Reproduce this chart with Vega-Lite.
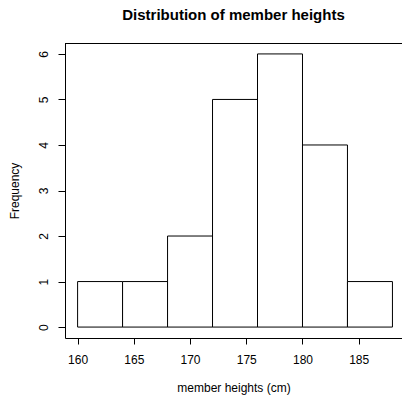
{
  "$schema": "https://vega.github.io/schema/vega-lite/v6.json",
  "width": 337,
  "height": 295,
  "autosize": "none",
  "padding": {"left": 65, "top": 43, "right": 0, "bottom": 59},
  "config": {"view": {"stroke": null}, "font": "Liberation Sans"},
  "title": {"text": "Distribution of member heights", "fontSize": 15, "fontWeight": "bold", "font": "Liberation Sans", "color": "black", "anchor": "middle", "offset": 20},
  "data": {"values": [
    {"start": 160, "end": 164, "count": 1},
    {"start": 164, "end": 168, "count": 1},
    {"start": 168, "end": 172, "count": 2},
    {"start": 172, "end": 176, "count": 5},
    {"start": 176, "end": 180, "count": 6},
    {"start": 180, "end": 184, "count": 4},
    {"start": 184, "end": 188, "count": 1}
  ]},
  "layer": [
    {
      "mark": {"type": "bar", "fill": "white", "stroke": "black", "strokeWidth": 1},
      "encoding": {
        "x": {"field": "start", "type": "quantitative",
          "scale": {"domain": [158.88, 188.85], "nice": false, "zero": false},
          "axis": {"values": [160, 165, 170, 175, 180, 185], "grid": false, "tickSize": 6, "tickColor": "black", "domainColor": "black", "labelFontSize": 12, "labelColor": "black", "labelPadding": 10, "title": "member heights (cm)", "titleFontSize": 12, "titleFontWeight": "normal", "titleColor": "black", "titlePadding": 17}},
        "x2": {"field": "end"},
        "y": {"field": "count", "type": "quantitative",
          "scale": {"domain": [-0.24, 6.24], "nice": false, "zero": false},
          "axis": {"values": [0, 1, 2, 3, 4, 5, 6], "grid": false, "tickSize": 7, "tickColor": "black", "domainColor": "black", "labelFontSize": 12, "labelColor": "black", "labelAngle": -90, "labelAlign": "center", "labelBaseline": "bottom", "labelPadding": 8, "title": "Frequency", "titleFontSize": 12, "titleFontWeight": "normal", "titleColor": "black", "titlePadding": 16}},
        "y2": {"datum": 0}
      }
    },
    {
      "mark": {"type": "rule", "color": "black", "strokeWidth": 1},
      "encoding": {"y": {"datum": 6.229}}
    }
  ]
}
